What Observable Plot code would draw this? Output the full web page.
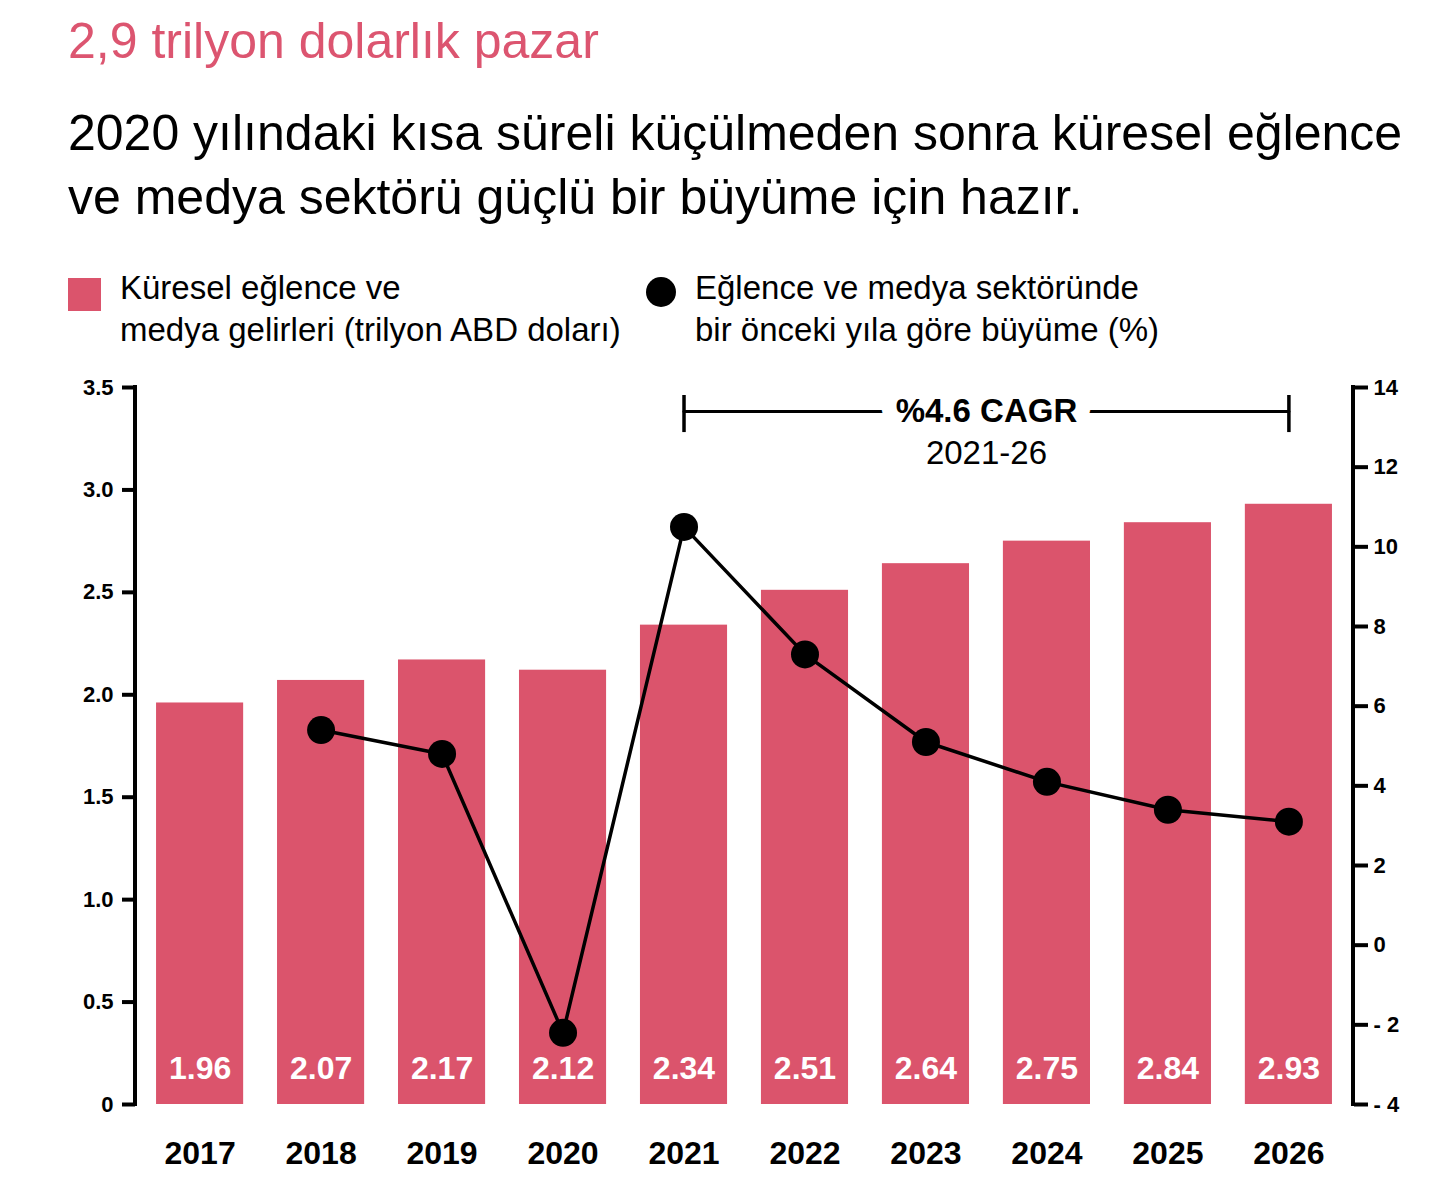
<!DOCTYPE html>
<html>
<head>
<meta charset="utf-8">
<script src="https://cdn.jsdelivr.net/npm/d3@7"></script>
<script src="https://cdn.jsdelivr.net/npm/@observablehq/plot@0.6"></script>
<style>
  html, body { margin: 0; padding: 0; background: #fff; }
  body { width: 1448px; font-family: "Liberation Sans", Arial, Helvetica, sans-serif; color: #000; }
  #header { position: relative; height: 360px; }
  .abs { position: absolute; white-space: nowrap; }
  #title { left: 68px; top: 16px; font-size: 50px; line-height: 50px; color: #dc5570; }
  #subtitle { left: 68px; top: 101px; font-size: 50px; line-height: 64px; }
  .legtext { font-size: 33px; line-height: 42px; top: 267px; }
  #sw1 { left: 68px; top: 278px; width: 33px; height: 33px; background: #db546c; }
  #sw2 { left: 646px; top: 277px; width: 30px; height: 30px; border-radius: 50%; background: #000; }
  #leg1 { left: 120px; }
  #leg2 { left: 695px; }
  #chart svg { display: block; }
</style>
</head>
<body>
<div id="header">
  <div class="abs" id="title">2,9 trilyon dolarlık pazar</div>
  <div class="abs" id="subtitle">2020 yılındaki kısa süreli küçülmeden sonra küresel eğlence<br>ve medya sektörü güçlü bir büyüme için hazır.</div>
  <div class="abs" id="sw1"></div>
  <div class="abs legtext" id="leg1">Küresel eğlence ve<br>medya gelirleri (trilyon ABD doları)</div>
  <div class="abs" id="sw2"></div>
  <div class="abs legtext" id="leg2">Eğlence ve medya sektöründe<br>bir önceki yıla göre büyüme (%)</div>
</div>
<div id="chart"></div>
<script>
// ---- data ----
const years = ["2017","2018","2019","2020","2021","2022","2023","2024","2025","2026"];
const revenue = [1.96, 2.07, 2.17, 2.12, 2.34, 2.51, 2.64, 2.75, 2.84, 2.93];
const growthYears = ["2018","2019","2020","2021","2022","2023","2024","2025","2026"];
const growth = [5.4, 4.8, -2.2, 10.5, 7.3, 5.1, 4.1, 3.4, 3.1];
const leftTicks = [0, 0.5, 1.0, 1.5, 2.0, 2.5, 3.0, 3.5];
const leftTickLabels = ["0", "0.5", "1.0", "1.5", "2.0", "2.5", "3.0", "3.5"];
const rightTicks = [-4, -2, 0, 2, 4, 6, 8, 10, 12, 14];
const rightTickLabels = ["- 4", "- 2", "0", "2", "4", "6", "8", "10", "12", "14"];
const cagrLabel = "%4.6 CAGR";
const cagrPeriod = "2021-26";
const cagrStart = "2021";
const cagrEnd = "2026";

// ---- layout / style ----
const PINK = "#db546c";
const W = 1448, H = 825;
const mTop = 27, mBottom = 81, mLeft = 135, mRight = 95;
const padInner = 0.28, padOuter = 0.174;
const yMax = 3.5;
const gMin = -4, gMax = 14;
const toLeft = g => (g - gMin) / (gMax - gMin) * yMax;
const step = (W - mLeft - mRight) / (years.length - padInner + 2 * padOuter);

const bars = years.map((y, i) => ({year: y, value: revenue[i]}));
const line = growthYears.map((y, i) => ({year: y, g: growth[i], v: toLeft(growth[i])}));
const leftLabelMap = new Map(leftTicks.map((t, i) => [t, leftTickLabels[i]]));
const rightPos = rightTicks.map(toLeft);
const rightLabelMap = new Map(rightPos.map((p, i) => [p, rightTickLabels[i]]));

// annotation levels (left-axis units)
const bracketY = 3.383, bracketTop = 3.461, bracketBottom = 3.28, periodY = 3.178;

// vertical axis lines along both sides of the frame
function axisLines(index, scales, values, dimensions) {
  const {width, height, marginTop, marginBottom, marginLeft, marginRight} = dimensions;
  const g = d3.create("svg:g").attr("stroke", "#000").attr("stroke-width", 4);
  const y1 = marginTop - 2, y2 = height - marginBottom + 2;
  g.append("line").attr("x1", marginLeft).attr("x2", marginLeft).attr("y1", y1).attr("y2", y2);
  g.append("line").attr("x1", width - marginRight).attr("x2", width - marginRight).attr("y1", y1).attr("y2", y2);
  return g.node();
}

const FONT = '"Liberation Sans", Arial, Helvetica, sans-serif';
const chart = Plot.plot({
  width: W, height: H,
  marginTop: mTop, marginBottom: mBottom, marginLeft: mLeft, marginRight: mRight,
  style: {fontFamily: FONT, color: "#000", background: "#fff", overflow: "visible"},
  x: {type: "band", domain: years, paddingInner: padInner, paddingOuter: padOuter, round: false},
  y: {domain: [0, yMax]},
  marks: [
    Plot.barY(bars, {x: "year", y: "value", fill: PINK}),
    Plot.text(bars, {x: "year", y: 0, text: d => d.value.toFixed(2), dy: -36, fill: "#fff", fontSize: 32, fontWeight: "bold"}),
    Plot.line(line, {x: "year", y: "v", stroke: "#000", strokeWidth: 3.5}),
    Plot.dot(line, {x: "year", y: "v", r: 14, fill: "#000"}),
    axisLines,
    Plot.axisY(leftTicks, {anchor: "left", tickSize: 13, tickPadding: 9, strokeWidth: 4,
      fontSize: 22, fontWeight: "bold", tickFormat: d => leftLabelMap.get(d), label: null}),
    Plot.axisY(rightPos, {anchor: "right", tickSize: 14, tickPadding: 6, strokeWidth: 4,
      fontSize: 22, fontWeight: "bold", tickFormat: d => rightLabelMap.get(d), label: null}),
    Plot.axisX({anchor: "bottom", tickSize: 0, tickPadding: 37, fontSize: 32, fontWeight: "bold", label: null}),
    // CAGR bracket
    Plot.line([{x: cagrStart, y: bracketY}, {x: cagrEnd, y: bracketY}], {x: "x", y: "y", stroke: "#000", strokeWidth: 3}),
    Plot.ruleX([cagrStart, cagrEnd], {x: d => d, y1: bracketBottom, y2: bracketTop, stroke: "#000", strokeWidth: 3.5}),
    Plot.text([cagrLabel], {x: () => "2023", y: bracketY, dx: step / 2, text: d => d, fontSize: 33, fontWeight: "bold",
      fill: "#000", stroke: "#fff", strokeWidth: 30}),
    Plot.text([cagrPeriod], {x: () => "2023", y: periodY, dx: step / 2, text: d => d, fontSize: 33, fill: "#000"})
  ]
});
document.getElementById("chart").appendChild(chart);
</script>
</body>
</html>
